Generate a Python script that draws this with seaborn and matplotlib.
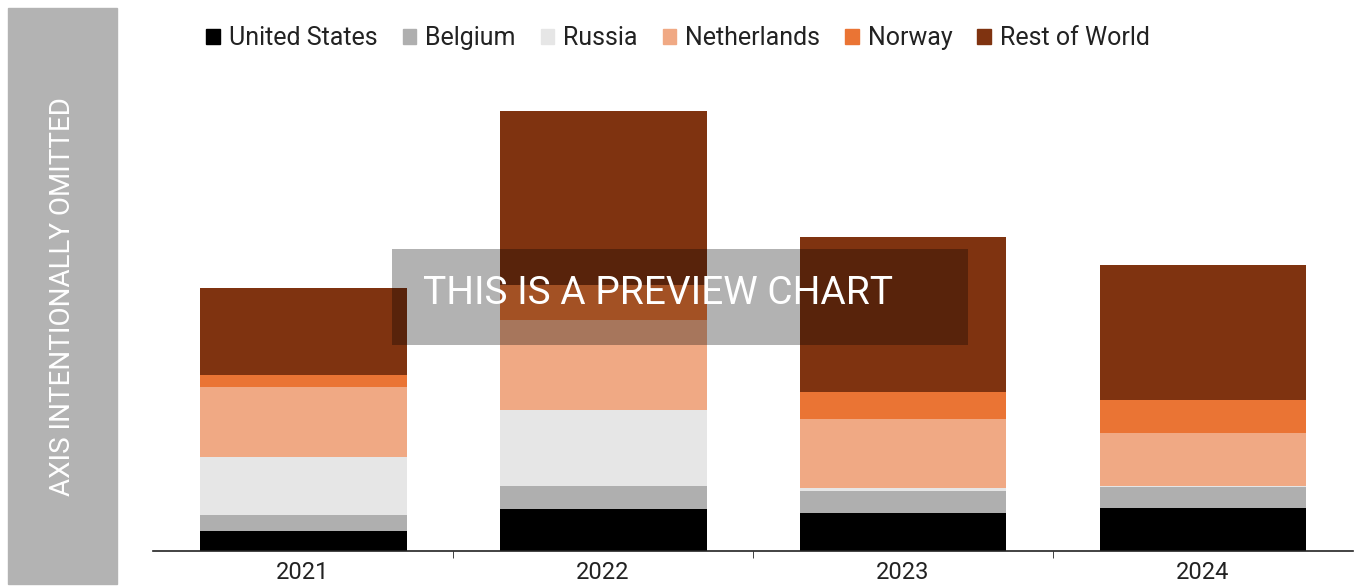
import numpy as np
import seaborn as sns
import matplotlib.pyplot as plt
from matplotlib.patches import Rectangle, FancyBboxPatch

years = ['2021', '2022', '2023', '2024']
united_states = [20, 42, 38, 43]
belgium = [16, 23, 22, 21]
russia = [58, 76, 3, 1]
netherlands = [70, 90, 69, 53]
norway = [12, 35, 27, 33]
rest_of_world = [87, 174, 155, 135]

series = ['United States', 'Belgium', 'Russia', 'Netherlands', 'Norway', 'Rest of World']
values = [united_states, belgium, russia, netherlands, norway, rest_of_world]
colors = ['#000000', '#afafaf', '#e6e6e6', '#f0a984', '#ea7434', '#7f3310']

sns.set_style('white')
plt.rcParams['font.family'] = ['Roboto', 'DejaVu Sans']

fig = plt.figure(figsize=(13.54, 5.86), dpi=100)
ax = fig.add_axes([153 / 1354, 1 - 551 / 586, 1200 / 1354, 491 / 586])

bottom = np.zeros(len(years))
for name, vals, col in zip(series, values, colors):
    sns.barplot(x=years, y=vals, bottom=bottom, color=col, width=0.69,
                saturation=1, ax=ax, label=name, linewidth=0)
    bottom += np.array(vals)

ax.set_xlim(-0.5, 3.5)
ax.set_ylim(0, 491)
ax.set_yticks([])
for s in ['top', 'right', 'left']:
    ax.spines[s].set_visible(False)
ax.spines['bottom'].set_color('#222222')
ax.spines['bottom'].set_linewidth(1.2)
ax.set_xticks([0.5, 1.5, 2.5], minor=True)
ax.tick_params(axis='x', which='major', length=0, labelsize=17, pad=7, labelcolor='#222222')
ax.tick_params(axis='x', which='minor', length=5, color='#222222', bottom=True)
ax.set_xlabel('')
if ax.legend_:
    ax.legend_.remove()

handles = [FancyBboxPatch((0, 0), 1, 1, boxstyle='round,pad=0.1', color=c) for c in colors]
leg = fig.legend(handles, series, loc='center', bbox_to_anchor=(678 / 1354, 1 - 38 / 586),
                 ncol=6, frameon=False, handlelength=0.55, handleheight=0.55,
                 handletextpad=0.35, columnspacing=1.0, prop={'size': 18})
for t in leg.get_texts():
    t.set_color('#222222')

# left placeholder box for the omitted axis
fig.patches.append(Rectangle((8 / 1354, 2 / 586), 109 / 1354, 576 / 586,
                             transform=fig.transFigure, color='#b3b3b3', zorder=0))
fig.text(63 / 1354, 1 - 297 / 586, 'AXIS INTENTIONALLY OMITTED', rotation=90,
         ha='center', va='center', color='white', fontsize=20)

# preview overlay
fig.patches.append(Rectangle((392 / 1354, 1 - 345 / 586), 576 / 1354, 96 / 586,
                             transform=fig.transFigure, facecolor='black', alpha=0.3,
                             linewidth=0, zorder=5))
fig.text(658 / 1354, 1 - 293 / 586, 'THIS IS A PREVIEW CHART', ha='center', va='center',
         color='white', fontsize=28, zorder=6)

fig.savefig('out.png', dpi=100)
